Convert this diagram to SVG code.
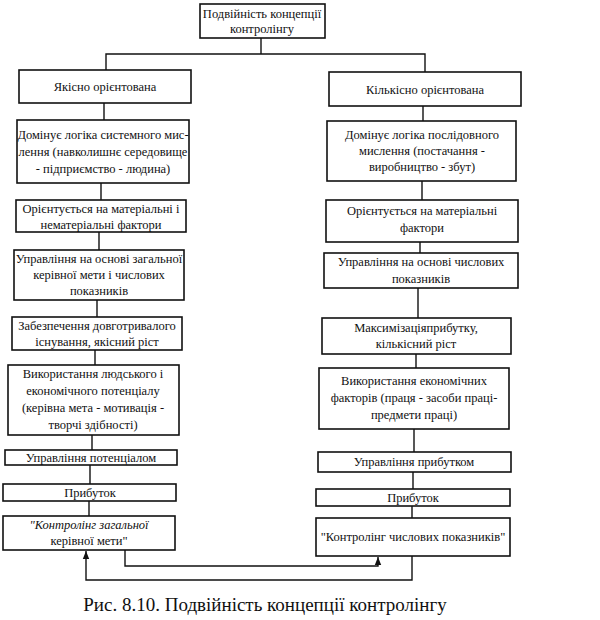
<svg xmlns="http://www.w3.org/2000/svg" width="600" height="620" viewBox="0 0 600 620">
<style>
rect{fill:#fff;stroke:#111;stroke-width:1.6}
text{font-family:'Liberation Serif','Times New Roman','DejaVu Serif',serif;font-size:12.5px;fill:#111;text-anchor:middle}
.c line,.c polyline{stroke:#111;stroke-width:1.4;fill:none}
.cap{font-size:19px}
</style>
<defs><marker id="a" viewBox="0 0 10 10" refX="10" refY="5" markerWidth="6" markerHeight="6" orient="auto"><path d="M0,1L10,5L0,9z" fill="#111"/></marker></defs>
<rect x="0" y="0" width="600" height="620" style="fill:#fff;stroke:none"/>
<g class="c">
<line x1="261" y1="38" x2="261" y2="54"/>
<polyline points="106,70 106,54 425,54 425,72"/>
<line x1="104" y1="103" x2="104" y2="120"/>
<line x1="101" y1="183" x2="101" y2="200"/>
<line x1="99" y1="232" x2="99" y2="250"/>
<line x1="97" y1="300" x2="97" y2="317"/>
<line x1="95" y1="350" x2="95" y2="365"/>
<line x1="92" y1="435" x2="92" y2="450"/>
<line x1="90" y1="465" x2="90" y2="484"/>
<line x1="89" y1="501" x2="89" y2="516"/>
<line x1="423" y1="106" x2="423" y2="121"/>
<line x1="422" y1="181" x2="422" y2="200"/>
<line x1="420" y1="242" x2="420" y2="253"/>
<line x1="418" y1="288" x2="418" y2="318"/>
<line x1="416" y1="354" x2="416" y2="368"/>
<line x1="414" y1="429" x2="414" y2="452"/>
<line x1="413" y1="472" x2="413" y2="489"/>
<line x1="412" y1="506" x2="412" y2="518"/>
<polyline points="125,550 125,566 378,566 378,557" marker-end="url(#a)"/>
<polyline points="412,556 412,580 86,580 86,551" marker-end="url(#a)"/>
</g>
<g id="top"><rect x="200" y="4" width="125" height="34"/><text x="262" y="18">Подвійність концепції</text><text x="262" y="33">контролінгу</text></g>
<g id="l1"><rect x="19" y="70" width="172" height="33"/><text x="105" y="91">Якісно орієнтована</text></g>
<g id="l2"><rect x="17" y="120" width="172" height="63"/><text x="103" y="139">Домінує логіка системного мис-</text><text x="103" y="156">лення (навколишнє середовище</text><text x="103" y="173">- підприємство - людина)</text></g>
<g id="l3"><rect x="16" y="200" width="170" height="32"/><text x="101" y="213">Орієнтується на матеріальні і</text><text x="101" y="229">нематеріальні фактори</text></g>
<g id="l4"><rect x="14" y="250" width="170" height="50"/><text x="99" y="263">Управління на основі загальної</text><text x="99" y="279">керівної мети і числових</text><text x="99" y="295">показників</text></g>
<g id="l5"><rect x="12" y="317" width="170" height="33"/><text x="97" y="330">Забезпечення довготривалого</text><text x="97" y="346">існування, якісний ріст</text></g>
<g id="l6"><rect x="8" y="365" width="171" height="70"/><text x="93" y="378">Використання людського і</text><text x="93" y="395">економічного потенціалу</text><text x="93" y="412">(керівна мета - мотивація -</text><text x="93" y="429">творчі здібності)</text></g>
<g id="l7"><rect x="5" y="450" width="172" height="15"/><text x="91" y="462">Управління потенціалом</text></g>
<g id="l8"><rect x="3" y="484" width="173" height="17"/><text x="90" y="497">Прибуток</text></g>
<g id="l9"><rect x="3" y="516" width="172" height="34"/><text x="89" y="529" font-style="italic">"Контролінг загальної</text><text x="89" y="545">керівної мети"</text></g>
<g id="r1"><rect x="329" y="72" width="192" height="34"/><text x="425" y="94">Кількісно орієнтована</text></g>
<g id="r2"><rect x="327" y="121" width="189" height="60"/><text x="422" y="139">Домінує логіка послідовного</text><text x="422" y="155">мислення (постачання -</text><text x="422" y="171">виробництво - збут)</text></g>
<g id="r3"><rect x="326" y="200" width="192" height="42"/><text x="422" y="215">Орієнтується на матеріальні</text><text x="422" y="232">фактори</text></g>
<g id="r4"><rect x="324" y="253" width="194" height="35"/><text x="421" y="266">Управління на основі числових</text><text x="421" y="283">показників</text></g>
<g id="r5"><rect x="322" y="318" width="189" height="36"/><text x="416" y="332">Максимізаціяприбутку,</text><text x="416" y="348">кількісний ріст</text></g>
<g id="r6"><rect x="319" y="368" width="190" height="61"/><text x="414" y="385">Використання економічних</text><text x="414" y="402">факторів (праця - засоби праці-</text><text x="414" y="419">предмети праці)</text></g>
<g id="r7"><rect x="318" y="452" width="193" height="20"/><text x="414" y="466">Управління прибутком</text></g>
<g id="r8"><rect x="316" y="489" width="194" height="17"/><text x="413" y="502">Прибуток</text></g>
<g id="r9"><rect x="316" y="518" width="194" height="38"/><text x="413" y="541">"Контролінг числових показників"</text></g>
<text class="cap" x="265" y="611">Рис. 8.10. Подвійність концепції контролінгу</text>
</svg>
